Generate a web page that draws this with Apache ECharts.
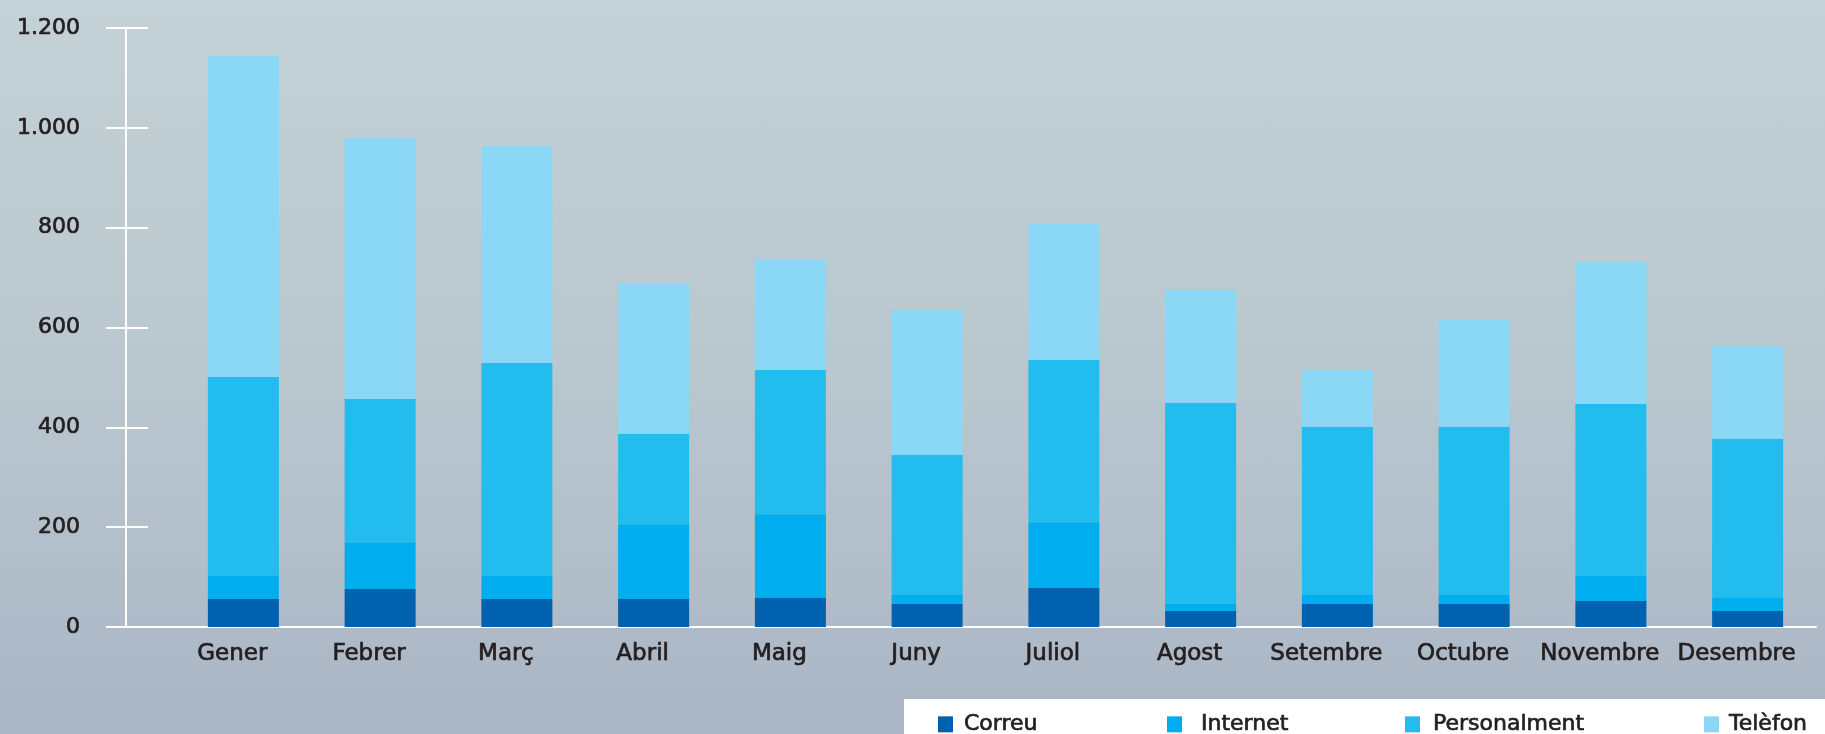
<!DOCTYPE html>
<html>
<head>
<meta charset="utf-8">
<script src="https://cdn.jsdelivr.net/npm/echarts@6/dist/echarts.min.js"></script>
<style>
  html, body { margin: 0; padding: 0; }
  #chart {
    width: 1825px; height: 734px;
    background: linear-gradient(to bottom, #c4d2d7 0%, #bdcbd1 35%, #b4c1cb 70%, #aab5c5 100%);
  }
</style>
</head>
<body>
<div id="chart"></div>
<script>
// Monthly contacts by channel
const months = ['Gener', 'Febrer', 'Març', 'Abril', 'Maig', 'Juny', 'Juliol', 'Agost', 'Setembre', 'Octubre', 'Novembre', 'Desembre'];
const correu       = [56, 76, 56, 56, 58, 46, 78, 32, 46, 46, 52, 32];
const internet     = [46, 94, 46, 150, 168, 18, 132, 14, 18, 18, 50, 26];
const personalment = [399, 287, 427, 181, 289, 281, 325, 403, 337, 337, 345, 319];
const telefon      = [643, 523, 435, 302, 222, 290, 274, 226, 114, 214, 284, 186];
const yTicks = { min: 0, max: 1200, step: 200 };

const seriesDefs = [
  { name: 'Correu', data: correu, color: '#0061ae' },
  { name: 'Internet', data: internet, color: '#00adee' },
  { name: 'Personalment', data: personalment, color: '#22bcee' },
  { name: 'Telèfon', data: telefon, color: '#8bd7f6' }
];

const FONT = 'DejaVu Sans';
const INK = '#231f20';
// a thin outline in the text colour gives the labels a medium weight
const medium = { textBorderColor: INK, textBorderWidth: 0.7 };

const chart = echarts.init(document.getElementById('chart'), null, { renderer: 'canvas' });

// One legend per entry so each sits in its own column of the white strip
const legendSlots = [
  { left: 938, pad: 6 },
  { left: 1167, pad: 14 },
  { left: 1405, pad: 8 },
  { left: 1704, pad: 5 }
];

const fmtThousands = v => String(v).replace(/\B(?=(\d{3})+(?!\d))/g, '.');

chart.setOption({
  backgroundColor: 'transparent',
  animation: false,
  grid: { left: 175, right: 9, top: 28, bottom: 107, containLabel: false },
  graphic: [
    {
      type: 'rect', z: -1, silent: true,
      shape: { x: 904, y: 699, width: 921, height: 35 },
      style: { fill: '#ffffff' }
    },
    {
      type: 'line', z: 10, silent: true,
      shape: { x1: 106, y1: 627, x2: 176, y2: 627 },
      style: { stroke: '#ffffff', lineWidth: 2 }
    }
  ],
  legend: seriesDefs.map((s, i) => ({
    data: [s.name],
    left: legendSlots[i].left,
    top: 713,
    itemWidth: 15,
    itemHeight: 16,
    icon: 'rect',
    padding: 0,
    textStyle: Object.assign({
      fontFamily: FONT, fontSize: 22, color: INK,
      padding: [0, 0, 0, legendSlots[i].pad]
    }, medium)
  })),
  xAxis: {
    type: 'category',
    data: months,
    axisLine: { lineStyle: { color: '#ffffff', width: 2 } },
    axisTick: { show: false },
    axisLabel: Object.assign({
      fontFamily: FONT, fontSize: 23, color: INK, margin: 16, interval: 0,
      padding: [0, 22, 0, 0]
    }, medium)
  },
  yAxis: [
    {
      type: 'value',
      min: yTicks.min, max: yTicks.max, interval: yTicks.step,
      offset: 49,
      axisLine: { show: true, lineStyle: { color: '#ffffff', width: 2 } },
      axisTick: { show: true, length: 20, lineStyle: { color: '#ffffff', width: 2 } },
      splitLine: { show: false },
      axisLabel: Object.assign({
        fontFamily: FONT, fontSize: 22, color: INK, margin: 46,
        padding: [0, 0, 6, 0],
        formatter: fmtThousands
      }, medium)
    },
    {
      // inner half of the cross ticks
      type: 'value',
      min: yTicks.min, max: yTicks.max, interval: yTicks.step,
      position: 'left',
      offset: 49,
      axisLine: { show: false },
      axisTick: { show: true, inside: true, length: 22, lineStyle: { color: '#ffffff', width: 2 } },
      splitLine: { show: false },
      axisLabel: { show: false }
    }
  ],
  series: seriesDefs.map(s => ({
    name: s.name,
    type: 'bar',
    stack: 'total',
    yAxisIndex: 0,
    barWidth: 71,
    data: s.data,
    itemStyle: { color: s.color },
    emphasis: { disabled: true }
  }))
});
</script>
</body>
</html>
